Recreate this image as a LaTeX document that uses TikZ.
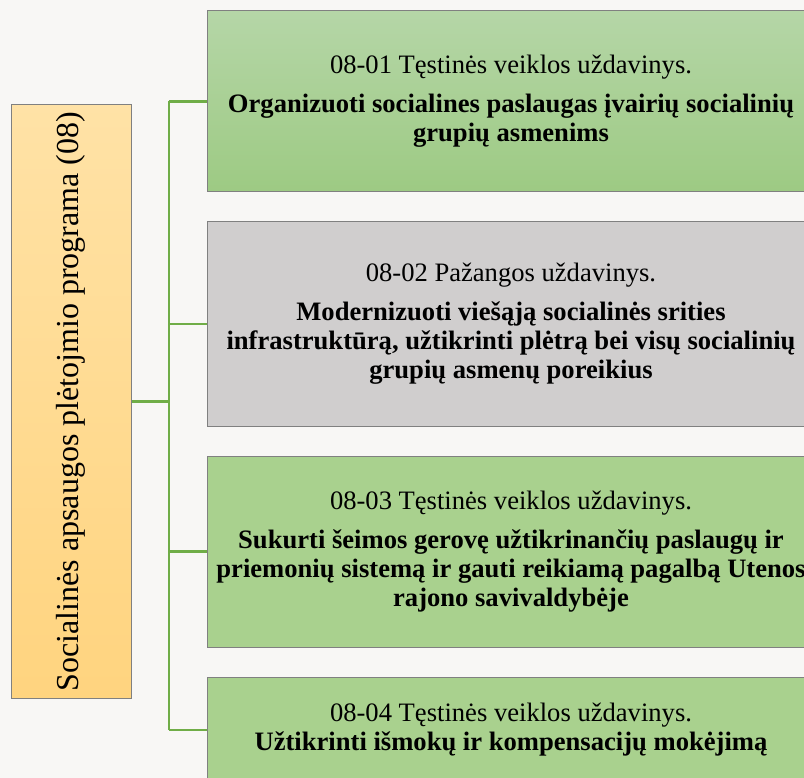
\documentclass[tikz,border=0pt]{standalone}
\usepackage{fontspec}
\setmainfont{Liberation Serif}
\usepackage{xcolor}
\usepackage{tikz}
\usetikzlibrary{positioning}

\definecolor{bgcol}{HTML}{F8F7F5}
\definecolor{framecol}{HTML}{808080}
\definecolor{linkcol}{HTML}{70AD47}
\definecolor{progtop}{HTML}{FFE2A6}
\definecolor{progbot}{HTML}{FFD47F}
\definecolor{greentop}{HTML}{B5D6A7}
\definecolor{greenbot}{HTML}{9DCA83}
\definecolor{greenflat}{HTML}{A9D18E}
\definecolor{greyflat}{HTML}{D0CECE}

\tikzset{
  taskbox/.style={draw=framecol, line width=1pt, rectangle, minimum width=608pt,
    align=center, inner sep=0pt, font=\fontsize{26.6}{29}\selectfont},
  link/.style={draw=linkcol, line width=2.5pt}
}

\begin{document}
\begin{tikzpicture}[x=1pt,y=-1pt]
    \useasboundingbox (0,0) rectangle (804,778);
    \clip (0,0) rectangle (804,778);
    \fill[bgcol] (0,0) rectangle (804,778);

    \coordinate (trunk) at (169,0);

    \node[draw=framecol, line width=1pt, minimum width=120pt, minimum height=593pt,
      top color=progtop, bottom color=progbot] (prog) at (71,401.5) {};
    \node[rotate=90, font=\fontsize{32}{34}\selectfont] (progtext) at (prog.center)
      {Socialinės apsaugos plėtojmio programa (08)};

    \node[taskbox, minimum height=181pt, top color=greentop, bottom color=greenbot] (b1) at (511,101.5)
      {08-01 Tęstinės veiklos uždavinys.\\[10pt]
       \textbf{Organizuoti socialines paslaugas įvairių socialinių}\\
       \textbf{grupių asmenims}};
    \node[taskbox, minimum height=204pt, fill=greyflat] (b2) at (511,324)
      {08-02 Pažangos uždavinys.\\[10pt]
       \textbf{Modernizuoti viešąją socialinės srities}\\
       \textbf{infrastruktūrą, užtikrinti plėtrą bei visų socialinių}\\
       \textbf{grupių asmenų poreikius}};
    \node[taskbox, minimum height=191pt, fill=greenflat] (b3) at (511,551.5)
      {08-03 Tęstinės veiklos uždavinys.\\[10pt]
       \textbf{Sukurti šeimos gerovę užtikrinančių paslaugų ir}\\
       \textbf{priemonių sistemą ir gauti reikiamą pagalbą Utenos}\\
       \textbf{rajono savivaldybėje}};
    \node[taskbox, minimum height=106pt, fill=greenflat] (b4) at (511,730)
      {08-04 Tęstinės veiklos uždavinys.\\
       \textbf{Užtikrinti išmokų ir kompensacijų mokėjimą}};

    \draw[link] (prog.east) -- (prog.east -| trunk);
    \draw[link] (b1.west -| trunk) -- (b4.west -| trunk);
    \draw[link] (b1.west -| trunk) -- (b1.west);
    \draw[link] (b2.west -| trunk) -- (b2.west);
    \draw[link] (b3.west -| trunk) -- (b3.west);
    \draw[link] (b4.west -| trunk) -- (b4.west);
\end{tikzpicture}
\end{document}
